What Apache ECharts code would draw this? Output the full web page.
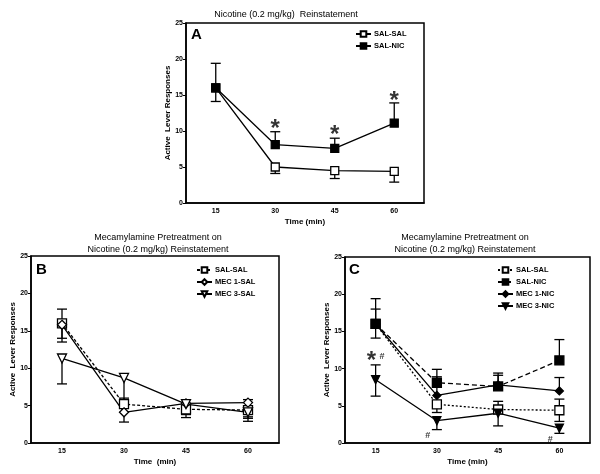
<!DOCTYPE html>
<html><head><meta charset="utf-8">
<script src="https://cdn.jsdelivr.net/npm/echarts@6/dist/echarts.min.js"></script>
<style>html,body{margin:0;padding:0;background:#fff}#c{width:600px;height:474px}</style>
</head><body><div id="c"></div>
<script>
// ---------- data ----------
const times = ['15', '30', '45', '60'];
const yTicks = [0, 5, 10, 15, 20, 25];

// Panel A
const aSalSal = [16.0, 5.0, 4.5, 4.4];
const aSalSalLo = [14.1, 4.1, 3.4, 2.9];
const aSalSalHi = [null, null, null, null];
const aSalNic = [16.0, 8.1, 7.6, 11.1];
const aSalNicLo = [null, null, null, null];
const aSalNicHi = [19.4, 9.9, 9.0, 13.9];
const aStars = [['30', 10.9, '*'], ['45', 10.1, '*'], ['60', 14.8, '*']];

// Panel B
const bSalSal = [16.0, 5.2, 4.5, 4.4];
const bSalSalLo = [14.0, 4.1, 3.4, 2.9];
const bSalSalHi = [null, 6.0, null, null];
const bMec1Sal = [15.8, 4.1, 5.3, 5.4];
const bMec1SalLo = [13.5, 2.8, 3.8, 3.3];
const bMec1SalHi = [17.9, null, null, 5.8];
const bMec3Sal = [11.3, 8.7, 5.2, 4.1];
const bMec3SalLo = [7.9, 5.5, 4.0, 3.5];
const bMec3SalHi = [null, null, null, null];

// Panel C
const cSalSal = [16.0, 5.2, 4.5, 4.4];
const cSalSalLo = [14.1, 4.1, null, 2.9];
const cSalSalHi = [null, null, 5.6, 5.9];
const cSalNic = [16.0, 8.1, 7.6, 11.1];
const cSalNicLo = [null, null, null, null];
const cSalNicHi = [19.4, 9.9, 9.1, 13.9];
const cMec1Nic = [16.0, 6.4, 7.8, 7.0];
const cMec1NicLo = [null, null, null, null];
const cMec1NicHi = [18.0, 8.9, 9.4, 8.8];
const cMec3Nic = [8.5, 3.0, 4.0, 2.0];
const cMec3NicLo = [6.3, 1.8, 2.3, 1.3];
const cMec3NicHi = [10.5, null, null, null];
const cMarks = [['15', 11.6, '*#'], ['30', 1.0, '#'], ['60', 0.5, '#']];

// ---------- chart ----------
const FONT = "'Liberation Sans', Arial, sans-serif";
const grids = [
  {left: 186, top: 23, width: 238, height: 180},
  {left: 31, top: 256, width: 248, height: 187},
  {left: 345, top: 257, width: 245, height: 186}
];
const chart = echarts.init(document.getElementById('c'), null, {renderer: 'canvas'});

function xAx(i, name) {
  return {
    type: 'category', gridIndex: i, data: times, boundaryGap: true,
    name: name, nameLocation: 'middle', nameGap: 15,
    nameTextStyle: {fontFamily: FONT, fontWeight: 'bold', fontSize: 8, color: '#000'},
    axisLine: {lineStyle: {color: '#000', width: 1.5}},
    axisTick: {alignWithLabel: true, length: 3, lineStyle: {color: '#000', width: 1}},
    axisLabel: {fontFamily: FONT, fontWeight: 'bold', fontSize: 7, color: '#000', margin: 5},
    splitLine: {show: false}
  };
}
function yAx(i) {
  return {
    type: 'value', gridIndex: i, min: yTicks[0], max: yTicks[yTicks.length - 1], interval: 5,
    name: 'Active  Lever Responses', nameLocation: 'middle', nameGap: 13,
    nameTextStyle: {fontFamily: FONT, fontWeight: 'bold', fontSize: 8, color: '#000'},
    axisLine: {show: true, lineStyle: {color: '#000', width: 1.5}},
    axisTick: {show: true, length: 3, lineStyle: {color: '#000', width: 1}},
    axisLabel: {fontFamily: FONT, fontWeight: 'bold', fontSize: 7, color: '#000', margin: 3},
    splitLine: {show: false}
  };
}

const series = [];
function addSeries(gi, name, vals, lo, hi, sym, filled, dash, size) {
  series.push({
    type: 'line', name: name, xAxisIndex: gi, yAxisIndex: gi, data: vals,
    symbol: sym, symbolSize: size, symbolRotate: sym === 'triangle' ? 180 : 0,
    showAllSymbol: true, z: 5,
    lineStyle: {color: '#000', width: 1.3, type: dash || 'solid'},
    itemStyle: {color: filled ? '#000' : '#fff', borderColor: '#000', borderWidth: 1.3},
    emphasis: {disabled: true}, animation: false
  });
  const ed = [];
  vals.forEach((v, k) => { ed.push([k, v, lo[k] == null ? v : lo[k], hi[k] == null ? v : hi[k]]); });
  series.push({
    type: 'custom', xAxisIndex: gi, yAxisIndex: gi, data: ed, z: 3, silent: true, animation: false,
    renderItem: function (params, api) {
      const x = api.value(0), v = api.value(1), l = api.value(2), h = api.value(3);
      const c = api.coord([x, v]), cl = api.coord([x, l]), ch = api.coord([x, h]);
      const children = [];
      const st = {stroke: '#000', lineWidth: 1.3};
      if (l < v) {
        children.push({type: 'line', shape: {x1: c[0], y1: c[1], x2: cl[0], y2: cl[1]}, style: st});
        children.push({type: 'line', shape: {x1: cl[0] - 5, y1: cl[1], x2: cl[0] + 5, y2: cl[1]}, style: st});
      }
      if (h > v) {
        children.push({type: 'line', shape: {x1: c[0], y1: c[1], x2: ch[0], y2: ch[1]}, style: st});
        children.push({type: 'line', shape: {x1: ch[0] - 5, y1: ch[1], x2: ch[0] + 5, y2: ch[1]}, style: st});
      }
      return {type: 'group', children: children};
    }
  });
}

addSeries(0, 'A:SAL-SAL', aSalSal, aSalSalLo, aSalSalHi, 'rect', false, 'solid', 8);
addSeries(0, 'A:SAL-NIC', aSalNic, aSalNicLo, aSalNicHi, 'rect', true, 'solid', 8);
addSeries(1, 'B:SAL-SAL', bSalSal, bSalSalLo, bSalSalHi, 'rect', false, [3, 2], 9);
addSeries(1, 'B:MEC 1-SAL', bMec1Sal, bMec1SalLo, bMec1SalHi, 'diamond', false, 'solid', 9);
addSeries(1, 'B:MEC 3-SAL', bMec3Sal, bMec3SalLo, bMec3SalHi, 'triangle', false, 'solid', 9);
addSeries(2, 'C:SAL-SAL', cSalSal, cSalSalLo, cSalSalHi, 'rect', false, [2, 2], 9);
addSeries(2, 'C:SAL-NIC', cSalNic, cSalNicLo, cSalNicHi, 'rect', true, [5, 3], 9);
addSeries(2, 'C:MEC 1-NIC', cMec1Nic, cMec1NicLo, cMec1NicHi, 'diamond', true, 'solid', 8);
addSeries(2, 'C:MEC 3-NIC', cMec3Nic, cMec3NicLo, cMec3NicHi, 'triangle', true, 'solid', 8);

function addMarks(gi, marks, offsets) {
  series.push({
    type: 'scatter', xAxisIndex: gi, yAxisIndex: gi, symbolSize: 0, silent: true, animation: false, z: 6,
    data: marks.map((m, k) => ({
      value: [m[0], m[1]],
      label: {
        show: true, position: 'inside', offset: offsets[k],
        formatter: m[2] === '*#' ? '{s|*} {h|#}' : (m[2] === '*' ? '{s|*}' : '{h|#}'),
        rich: {
          s: {fontFamily: FONT, fontSize: 24, fontWeight: 'bold', color: '#000', padding: [10, 0, 0, 0]},
          h: {fontFamily: FONT, fontSize: 9, fontWeight: 'bold', color: '#000'}
        }
      }
    }))
  });
}
addMarks(0, aStars, [[0, 0], [0, 0], [0, 0]]);
addMarks(2, cMarks, [[0, 0], [-9, 0], [-9, 0]]);

function legend(names, left, top, gap) {
  return {
    data: names, left: left, top: top, orient: 'vertical', itemGap: gap,
    itemWidth: 15, itemHeight: 7, selectedMode: false,
    formatter: n => n.split(':')[1],
    textStyle: {fontFamily: FONT, fontWeight: 'bold', fontSize: 7.5, color: '#000', padding: [0, 0, 0, -2]}
  };
}

const titleStyle = {fontFamily: FONT, fontWeight: 'normal', fontSize: 9, color: '#000', lineHeight: 12};
chart.setOption({
  animation: false,
  backgroundColor: '#fff',
  grid: grids.map(g => Object.assign({show: true, borderColor: '#000', borderWidth: 1.5, backgroundColor: 'transparent', containLabel: false}, g)),
  title: [
    {text: 'Nicotine (0.2 mg/kg)  Reinstatement', left: 281, top: 4, textAlign: 'center', textStyle: titleStyle},
    {text: 'Mecamylamine Pretreatment on\nNicotine (0.2 mg/kg) Reinstatement', left: 153, top: 227, textAlign: 'center', textStyle: titleStyle},
    {text: 'Mecamylamine Pretreatment on\nNicotine (0.2 mg/kg) Reinstatement', left: 460, top: 227, textAlign: 'center', textStyle: titleStyle}
  ],
  legend: [
    legend(['A:SAL-SAL', 'A:SAL-NIC'], 350, 25, 4),
    legend(['B:SAL-SAL', 'B:MEC 1-SAL', 'B:MEC 3-SAL'], 191, 261, 4),
    legend(['C:SAL-SAL', 'C:SAL-NIC', 'C:MEC 1-NIC', 'C:MEC 3-NIC'], 492, 261, 4)
  ],
  xAxis: [xAx(0, 'Time (min)'), xAx(1, 'Time  (min)'), xAx(2, 'Time (min)')],
  yAxis: [yAx(0), yAx(1), yAx(2)],
  graphic: [
    {type: 'text', left: 191, top: 27, style: {text: 'A', font: 'bold 15px ' + FONT, fill: '#000'}},
    {type: 'text', left: 36, top: 262, style: {text: 'B', font: 'bold 15px ' + FONT, fill: '#000'}},
    {type: 'text', left: 349, top: 262, style: {text: 'C', font: 'bold 15px ' + FONT, fill: '#000'}}
  ],
  series: series
});
</script></body></html>
